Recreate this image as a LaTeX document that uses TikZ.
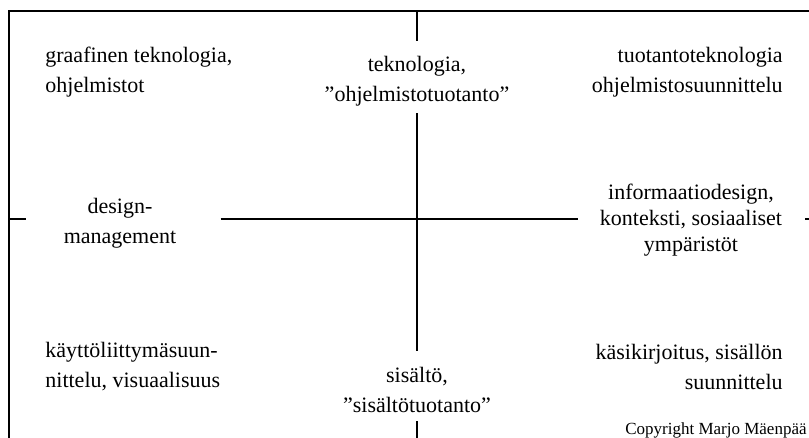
\documentclass[tikz,border=0pt]{standalone}
\usepackage{fontspec}
\setmainfont{Liberation Serif}
\usetikzlibrary{positioning}
\tikzset{
  axis/.style={line width=1pt},
  quad/.style={inner sep=0pt, font=\fontsize{11}{15}\selectfont},
  note/.style={inner sep=0pt, font=\fontsize{8.5}{10}\selectfont},
}

\begin{document}
\begin{tikzpicture}[x=0.5pt, y=-0.5pt]
  \useasboundingbox (0,0) rectangle (809,438);
  \draw[axis] (9,445) |- (815,11);
  \coordinate (top) at (417,11);
  \coordinate (bot) at (417,445);
  \coordinate (lft) at (9,219);
  \coordinate (rgt) at (815,219);

  \node[quad, anchor=west, align=left] (tl) at (45,72) {graafinen teknologia,\\ohjelmistot};
  \node[quad, align=center] (tc) at (417,81) {teknologia,\\”ohjelmistotuotanto”};
  \node[quad, anchor=east, align=right] (tr) at (783,72) {tuotantoteknologia\\ohjelmistosuunnittelu};
  \node[quad, align=center] (ml) at (120,223) {design-\\management};
  \node[quad, align=center, font=\fontsize{11}{13}\selectfont] (mr) at (691,220) {informaatiodesign,\\konteksti, sosiaaliset\\ympäristöt};
  \node[quad, anchor=west, align=left] (bl) at (45,367) {käyttöliittymäsuun-\\nittelu, visuaalisuus};
  \node[quad, align=center] (bc) at (417,390) {sisältö,\\”sisältötuotanto”};
  \node[quad, anchor=east, align=right] (br) at (783,367) {käsikirjoitus, sisällön\\suunnittelu};
  \node[note, anchor=east] (copy) at (807,430) {Copyright Marjo Mäenpää};

  \draw[axis, shorten >=7.5pt] (top) -- (top |- tc.north);
  \draw[axis, shorten <=3.5pt, shorten >=7.75pt] (tc.south) -- (bc.north);
  \draw[axis, shorten <=4pt] (bc.south) -- (bot);
  \draw[axis, shorten >=18.5pt] (lft) -- (lft -| ml.west);
  \draw[axis, shorten <=22pt, shorten >=11pt] (lft -| ml.east) -- (lft -| mr.west);
  \draw[axis, shorten <=11.5pt] (lft -| mr.east) -- (rgt);
\end{tikzpicture}
\end{document}
